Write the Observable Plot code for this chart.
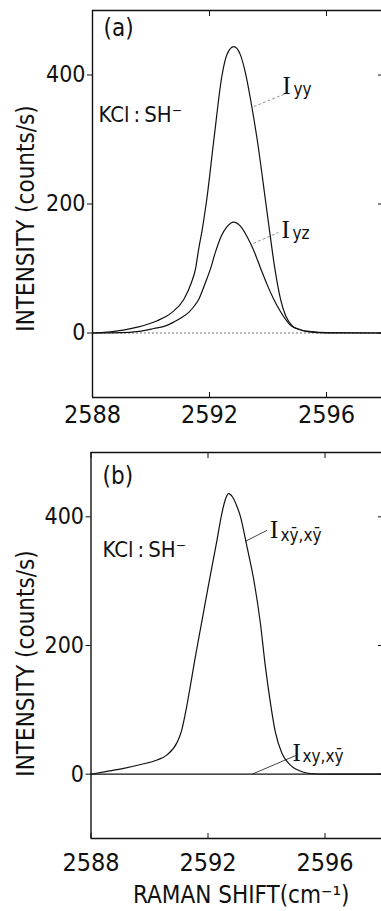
<!DOCTYPE html>
<html>
<head>
<meta charset="utf-8">
<script src="https://cdn.jsdelivr.net/npm/d3@7"></script>
<script src="https://cdn.jsdelivr.net/npm/@observablehq/plot@0.6"></script>
<style>
  html, body { margin: 0; padding: 0; background: #fff; }
  #chart { width: 381px; height: 911px; overflow: hidden; background: #fff; }
  #chart svg { display: block; }
</style>
</head>
<body>
<div id="chart"></div>
<script>
// ---------- data ----------
const xTicks = [2588, 2592, 2596];
const yTicks = [0, 200, 400];

// panel (a) : I_yy
const yyShift  = [2588, 2588.5, 2589, 2589.53, 2590.21, 2590.72, 2591.12, 2591.38, 2591.52, 2591.63, 2591.75, 2591.9, 2592.15, 2592.43, 2592.6, 2592.83, 2593.05, 2593.23, 2593.45, 2593.63, 2593.91, 2594.06, 2594.22, 2594.43, 2594.6, 2594.83, 2595.1, 2595.35, 2596, 2598];
const yyCounts = [0, 1.5, 4, 9, 19, 32, 52, 78, 99, 130, 160, 205, 300, 400, 432, 444, 432, 403, 350, 300, 207, 156, 104, 52, 27, 11, 5, 2, 0, 0];

// panel (a) : I_yz
const yzShift  = [2588, 2589, 2589.5, 2590.1, 2590.5, 2590.78, 2591.05, 2591.29, 2591.5, 2591.63, 2591.86, 2592.03, 2592.2, 2592.4, 2592.6, 2592.83, 2593.05, 2593.3, 2593.52, 2593.75, 2593.97, 2594.2, 2594.43, 2594.77, 2595.1, 2595.5, 2596, 2598];
const yzCounts = [0, 0.5, 2, 7, 11, 17, 24, 32, 43, 52, 78, 99, 125, 150, 165, 172, 166, 148, 127, 100, 75, 52, 33, 12, 5, 2, 0.5, 0];

// panel (b) : I_xȳ,xȳ
const xbShift  = [2588, 2588.5, 2589.12, 2589.7, 2590.26, 2590.6, 2590.95, 2591.1, 2591.25, 2591.4, 2591.55, 2591.8, 2592.05, 2592.3, 2592.45, 2592.58, 2592.7, 2592.85, 2593.0, 2593.1, 2593.34, 2593.57, 2593.79, 2593.96, 2594.13, 2594.3, 2594.53, 2594.82, 2595.27, 2595.5, 2596, 2598];
const xbCounts = [0, 4, 9, 15, 22, 30, 50, 68, 100, 138, 178, 240, 302, 362, 400, 425, 436, 430, 415, 402, 352, 301, 235, 168, 112, 66, 32, 14, 3, 1, 0, 0];

// panel (b) : I_xy,xȳ (flat at zero)
const xyShift  = [2588, 2598];
const xyCounts = [0, 0];

// ---------- helpers ----------
const rows = (xs, ys) => xs.map((x, i) => ({shift: x, counts: ys[i]}));
const sans  = '"Liberation Sans Narrow", "Arial Narrow", "DejaVu Sans Condensed", "DejaVu Sans", sans-serif';
const serif = '"Liberation Serif", "DejaVu Serif", serif';
const ink = "#111";
const plain = d => String(d);

function frame(xd, yd) {
  return [
    Plot.ruleX([xd[0]], {stroke: ink, strokeWidth: 1.4}),
    Plot.ruleX([xd[1]], {stroke: ink, strokeWidth: 1.4}),
    Plot.ruleY([yd[0]], {stroke: ink, strokeWidth: 1.4}),
    Plot.ruleY([yd[1]], {stroke: ink, strokeWidth: 1.4})
  ];
}
function axes(tickPadX) {
  return [
    Plot.axisY(yTicks, {anchor: "left", tickSize: 5, tickPadding: 2, fontSize: 23, tickFormat: plain, label: null, stroke: ink, fill: ink}),
    Plot.axisY(yTicks, {anchor: "right", tickSize: -4, tickFormat: () => "", label: null, stroke: ink}),
    Plot.axisX(xTicks, {anchor: "bottom", tickSize: -5, tickPadding: tickPadX + 5, fontSize: 25, tickFormat: plain, label: null, stroke: ink, fill: ink}),
    Plot.axisX(xTicks, {anchor: "top", tickSize: -5, tickFormat: () => "", label: null, stroke: ink})
  ];
}
const xDom = [2588, 2598];
const yDom = [-100, 500];

// ---------- panel (a) ----------
const A = Plot.plot({
  width: 381, height: 445,
  marginTop: 10, marginBottom: 48, marginLeft: 92, marginRight: 0,
  x: {domain: xDom, range: [92, 384.5]},
  y: {domain: yDom},
  style: {fontFamily: sans, background: "white", color: ink},
  marks: [
    Plot.ruleY([0], {stroke: "#666", strokeWidth: 0.9, strokeDasharray: "2,2"}),
    Plot.line(rows(yyShift, yyCounts), {x: "shift", y: "counts", stroke: ink, strokeWidth: 1.2, curve: "monotone-x"}),
    Plot.line(rows(yzShift, yzCounts), {x: "shift", y: "counts", stroke: ink, strokeWidth: 1.2, curve: "monotone-x"}),
    ...frame(xDom, yDom),
    ...axes(8),
    Plot.text(["INTENSITY (counts/s)"], {frameAnchor: "left", rotate: -90, dx: -66, dy: 14.5, fontSize: 24, textAnchor: "middle", lineAnchor: "middle", fill: ink}),
    Plot.text(["(a)"], {frameAnchor: "top-left", dx: 11, dy: 8, fontSize: 24, textAnchor: "start", lineAnchor: "top", fill: ink}),
    Plot.text(["KCl\u2009:\u2009SH\u207B"], {frameAnchor: "top-left", dx: 6, dy: 104, fontSize: 22, textAnchor: "start", lineAnchor: "middle", fill: ink}),
    Plot.link([0], {x1: 2593.51, y1: 351, x2: 2594.6, y2: 371, stroke: "#777", strokeWidth: 0.8, strokeDasharray: "3,2"}),
    Plot.text(["I"], {frameAnchor: "top-left", dx: 190, dy: 75, fontSize: 25, fontFamily: serif, textAnchor: "start", lineAnchor: "middle", fill: ink}),
    Plot.text(["yy"], {frameAnchor: "top-left", dx: 201, dy: 79, fontSize: 17, textAnchor: "start", lineAnchor: "middle", fill: ink}),
    Plot.link([0], {x1: 2593.5, y1: 139, x2: 2594.36, y2: 156, stroke: "#777", strokeWidth: 0.8, strokeDasharray: "3,2"}),
    Plot.text(["I"], {frameAnchor: "top-left", dx: 189, dy: 219, fontSize: 25, fontFamily: serif, textAnchor: "start", lineAnchor: "middle", fill: ink}),
    Plot.text(["yz"], {frameAnchor: "top-left", dx: 200, dy: 223, fontSize: 17, textAnchor: "start", lineAnchor: "middle", fill: ink})
  ]
});

// ---------- panel (b) ----------
const B = Plot.plot({
  width: 381, height: 466,
  marginTop: 7, marginBottom: 73, marginLeft: 90.5, marginRight: 0,
  x: {domain: xDom, range: [90.5, 383]},
  y: {domain: yDom},
  style: {fontFamily: sans, background: "white", color: ink},
  marks: [
    Plot.line(rows(xyShift, xyCounts), {x: "shift", y: "counts", stroke: ink, strokeWidth: 1.3}),
    Plot.line(rows(xbShift, xbCounts), {x: "shift", y: "counts", stroke: ink, strokeWidth: 1.2, curve: "monotone-x"}),
    ...frame(xDom, yDom),
    ...axes(15),
    Plot.text(["INTENSITY (counts/s)"], {frameAnchor: "left", rotate: -90, dx: -64.5, dy: 18, fontSize: 24, textAnchor: "middle", lineAnchor: "middle", fill: ink}),
    Plot.text(["RAMAN SHIFT(cm\u207B\u00B9)"], {frameAnchor: "bottom", dx: 5, dy: 57, fontSize: 24, textAnchor: "middle", lineAnchor: "middle", fill: ink}),
    Plot.text(["(b)"], {frameAnchor: "top-left", dx: 11.5, dy: 14, fontSize: 24, textAnchor: "start", lineAnchor: "top", fill: ink}),
    Plot.text(["KCl\u2009:\u2009SH\u207B"], {frameAnchor: "top-left", dx: 11.5, dy: 97, fontSize: 22, textAnchor: "start", lineAnchor: "middle", fill: ink}),
    Plot.link([0], {x1: 2593.28, y1: 362, x2: 2594.02, y2: 379, stroke: ink, strokeWidth: 0.8}),
    Plot.text(["I"], {frameAnchor: "top-left", dx: 179, dy: 77, fontSize: 25, fontFamily: serif, textAnchor: "start", lineAnchor: "middle", fill: ink}),
    Plot.text(["x\u0233,x\u0233"], {frameAnchor: "top-left", dx: 189.5, dy: 83, fontSize: 17, textAnchor: "start", lineAnchor: "middle", fill: ink}),
    Plot.link([0], {x1: 2593.51, y1: 0, x2: 2595.0, y2: 29, stroke: ink, strokeWidth: 0.8}),
    Plot.text(["I"], {frameAnchor: "top-left", dx: 201.5, dy: 300, fontSize: 25, fontFamily: serif, textAnchor: "start", lineAnchor: "middle", fill: ink}),
    Plot.text(["xy,x\u0233"], {frameAnchor: "top-left", dx: 211.5, dy: 304, fontSize: 17, textAnchor: "start", lineAnchor: "middle", fill: ink})
  ]
});

const root = document.getElementById("chart");
root.appendChild(A);
root.appendChild(B);
</script>
</body>
</html>
